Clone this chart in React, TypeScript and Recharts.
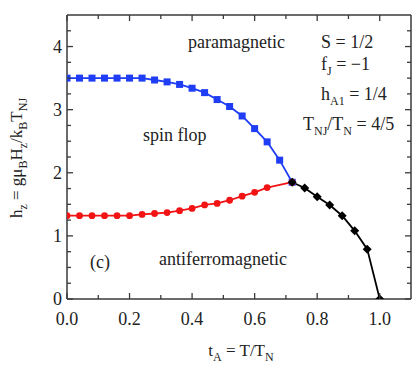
import { LineChart, Line, XAxis, YAxis, ReferenceLine } from "recharts"

// reduced temperature along each boundary
const blueT = [0, 0.04, 0.08, 0.12, 0.16, 0.2, 0.24, 0.28, 0.32, 0.36, 0.4, 0.44, 0.48, 0.52, 0.56, 0.6, 0.64, 0.68, 0.72]
const blueH = [3.5, 3.5, 3.5, 3.5, 3.5, 3.5, 3.5, 3.47, 3.44, 3.4, 3.34, 3.27, 3.16, 3.05, 2.9, 2.7, 2.49, 2.2, 1.85]

const redT = [0, 0.04, 0.08, 0.12, 0.16, 0.2, 0.24, 0.28, 0.32, 0.36, 0.4, 0.44, 0.48, 0.52, 0.56, 0.6, 0.64, 0.72]
const redH = [1.32, 1.32, 1.32, 1.32, 1.32, 1.32, 1.34, 1.355, 1.37, 1.4, 1.435, 1.49, 1.515, 1.565, 1.63, 1.69, 1.765, 1.85]

const blackT = [0.72, 0.76, 0.8, 0.84, 0.88, 0.92, 0.96, 1.0]
const blackH = [1.85, 1.76, 1.62, 1.49, 1.32, 1.08, 0.79, 0]

const xTicks = [0, 0.1, 0.2, 0.3, 0.4, 0.5, 0.6, 0.7, 0.8, 0.9, 1.0]
const yTicks = [0, 0.25, 0.5, 0.75, 1, 1.25, 1.5, 1.75, 2, 2.25, 2.5, 2.75, 3, 3.25, 3.5, 3.75, 4, 4.25]

const toRows = (ts: number[], hs: number[]) => ts.map((t, i) => ({ t, h: hs[i] }))
const blueData = toRows(blueT, blueH)
const redData = toRows(redT, redH)
const blackData = toRows(blackT, blackH)

const FONT = "Liberation Serif"
const FRAME = "#3a3a3a"
const TXT = "#222"
// plot box edges (top margin, 415 - right margin) for the mirrored inner ticks
const PLOT_TOP = 15
const PLOT_RIGHT = 411

const isMajorX = (v: number) => Math.round(v * 10) % 2 === 0
const isMajorY = (v: number) => Math.abs(v - Math.round(v)) < 1e-6

const BottomTick = ({ x, y, payload }: any) => {
  const v = payload.value
  const len = isMajorX(v) ? 6 : 4
  return (
    <g>
      <line x1={x} x2={x} y1={y} y2={y - len} stroke={FRAME} strokeWidth={1.3} />
      <line x1={x} x2={x} y1={PLOT_TOP} y2={PLOT_TOP + len} stroke={FRAME} strokeWidth={1.3} />
      {isMajorX(v) && (
        <text x={x} y={y + 26} textAnchor="middle" fontFamily={FONT} fontSize={18} fill={TXT}>
          {v.toFixed(1)}
        </text>
      )}
    </g>
  )
}

const LeftTick = ({ x, y, payload }: any) => {
  const v = payload.value
  const len = isMajorY(v) ? 6 : 4
  return (
    <g>
      <line x1={x} x2={x + len} y1={y} y2={y} stroke={FRAME} strokeWidth={1.3} />
      <line x1={PLOT_RIGHT} x2={PLOT_RIGHT - len} y1={y} y2={y} stroke={FRAME} strokeWidth={1.3} />
      {isMajorY(v) && (
        <text x={x - 5} y={y + 6} textAnchor="end" fontFamily={FONT} fontSize={18} fill={TXT}>
          {v}
        </text>
      )}
    </g>
  )
}

const SquareDot = ({ cx, cy, index }: any) => (
  <rect key={`s${index}`} x={cx - 3.5} y={cy - 3.5} width={7} height={7} fill="#1f3df5" />
)
const CircleDot = ({ cx, cy, index }: any) => (
  <circle key={`c${index}`} cx={cx} cy={cy} r={3.4} fill="#f21414" />
)
const DiamondDot = ({ cx, cy, index }: any) => (
  <path key={`d${index}`} d={`M${cx},${cy - 4.5}L${cx + 4.5},${cy}L${cx},${cy + 4.5}L${cx - 4.5},${cy}Z`} fill="#000" />
)

const T = ({ children, ...rest }: any) => (
  <text fontFamily={FONT} fontSize={18} fill={TXT} {...rest}>
    {children}
  </text>
)
const Sub = ({ children }: any) => (
  <tspan dy={5} fontSize={12}>
    {children}
  </tspan>
)
const Up = ({ children }: any) => <tspan dy={-5}>{children}</tspan>

export default function App() {
  return (
    <div style={{ position: "absolute", left: 0, top: 0, width: 415, height: 368, background: "#fff" }}>
      <LineChart width={415} height={368} margin={{ top: PLOT_TOP, right: 415 - PLOT_RIGHT, bottom: 0, left: 0 }}>
        <XAxis
          dataKey="t"
          type="number"
          domain={[0, 1.1]}
          allowDataOverflow
          ticks={xTicks}
          interval={0}
          tickSize={0}
          tickMargin={0}
          tickLine={false}
          height={69}
          axisLine={{ stroke: FRAME, strokeWidth: 1.5 }}
          tick={<BottomTick />}
        />
        <YAxis
          type="number"
          domain={[0, 4.5]}
          allowDataOverflow
          ticks={yTicks}
          interval={0}
          tickSize={0}
          tickMargin={0}
          tickLine={false}
          width={67}
          axisLine={{ stroke: FRAME, strokeWidth: 1.5 }}
          tick={<LeftTick />}
        />
        <ReferenceLine y={4.5} stroke={FRAME} strokeWidth={1.5} ifOverflow="visible" />
        <ReferenceLine x={1.1} stroke={FRAME} strokeWidth={1.5} ifOverflow="visible" />
        <Line data={blueData} dataKey="h" stroke="#1f3df5" strokeWidth={1.8} dot={SquareDot} isAnimationActive={false} />
        <Line data={redData} dataKey="h" stroke="#f21414" strokeWidth={1.8} dot={CircleDot} isAnimationActive={false} />
        <Line data={blackData} dataKey="h" stroke="#000" strokeWidth={1.8} dot={DiamondDot} isAnimationActive={false} />
      </LineChart>
      <svg width={415} height={368} style={{ position: "absolute", left: 0, top: 0, pointerEvents: "none" }}>
        <T x={188} y={48}>paramagnetic</T>
        <T x={321} y={48}>S = 1/2</T>
        <T x={321} y={70}>
          f<Sub>J</Sub>
          <Up> = −1</Up>
        </T>
        <T x={321} y={100}>
          h<Sub>A1</Sub>
          <Up> = 1/4</Up>
        </T>
        <T x={303} y={130}>
          T<Sub>NJ</Sub>
          <Up>/T</Up>
          <Sub>N</Sub>
          <Up> = 4/5</Up>
        </T>
        <T x={143} y={141}>spin flop</T>
        <T x={287} y={265} textAnchor="end">antiferromagnetic</T>
        <T x={90} y={268}>(c)</T>
        <T x={241} y={356} textAnchor="middle" fontSize={17}>
          t<Sub>A</Sub>
          <Up> = T/T</Up>
          <Sub>N</Sub>
        </T>
        <T transform="translate(22,158) rotate(-90)" textAnchor="middle" fontSize={17}>
          h<Sub>z</Sub>
          <Up> = gμ</Up>
          <Sub>B</Sub>
          <Up>H</Up>
          <Sub>z</Sub>
          <Up>/k</Up>
          <Sub>B</Sub>
          <Up>T</Up>
          <Sub>NJ</Sub>
        </T>
      </svg>
    </div>
  )
}
